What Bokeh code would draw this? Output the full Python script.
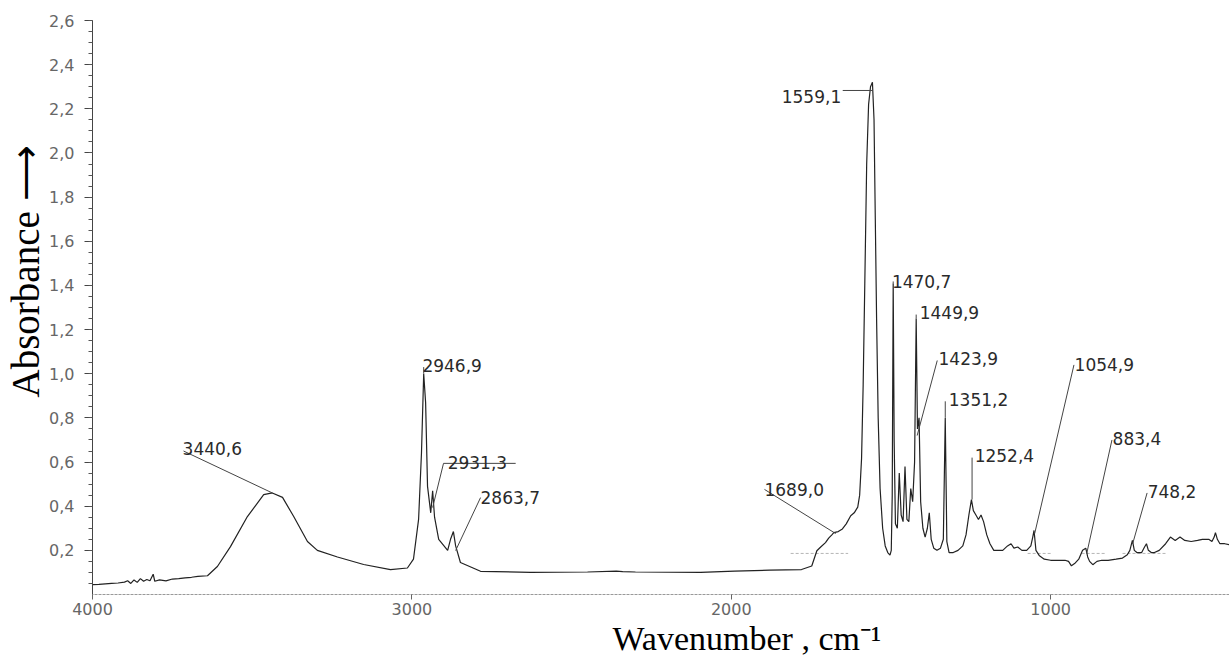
from bokeh.plotting import figure
from bokeh.models import Range1d, FixedTicker, CustomJSTickFormatter, Label, Title
from bokeh.embed import file_html
from bokeh.resources import INLINE

# Spectrum (wavenumber cm-1, absorbance)
wavenumber = [4000, 3980, 3960, 3940, 3920, 3900, 3890, 3880, 3870, 3860, 3850, 3840, 3830, 3820,
              3810, 3805, 3790, 3770, 3750, 3730, 3710, 3690, 3670, 3640, 3609, 3568, 3515, 3464,
              3437, 3405, 3370, 3327, 3296, 3233, 3151, 3067, 3014, 2995, 2979, 2970, 2963, 2957,
              2951, 2941, 2935, 2929, 2916, 2888, 2879, 2870, 2863, 2848, 2785, 2628, 2450, 2360,
              2340, 2300, 2096, 1990, 1880, 1780, 1748, 1732, 1720, 1705, 1695, 1685, 1679, 1665,
              1652, 1640, 1626, 1615, 1604, 1598, 1592, 1587, 1582, 1576, 1570, 1564, 1558, 1553,
              1549, 1545, 1540, 1534, 1526, 1518, 1510, 1503, 1499, 1496, 1493, 1490, 1486, 1480,
              1474, 1468, 1462, 1456, 1450, 1444, 1438, 1432, 1426, 1421, 1417, 1412, 1407, 1400,
              1393, 1386, 1380, 1374, 1366, 1356, 1345, 1336, 1330, 1325, 1318, 1305, 1290, 1275,
              1265, 1256, 1248, 1242, 1234, 1226, 1218, 1210, 1200, 1190, 1178, 1165, 1150, 1135,
              1124, 1115, 1103, 1090, 1075, 1062, 1056, 1052, 1046, 1035, 1020, 1000, 976, 955,
              944, 935, 925, 912, 900, 890, 884, 878, 868, 855, 840, 820, 795, 775, 760, 752,
              744, 738, 730, 715, 706, 700, 694, 685, 675, 660, 640, 625, 610, 595, 580, 560,
              540, 525, 505, 495, 488, 484, 478, 470, 455, 440]
absorbance = [0.045, 0.046, 0.048, 0.050, 0.052, 0.056, 0.062, 0.050, 0.066, 0.055, 0.072, 0.060, 0.068, 0.062,
              0.092, 0.060, 0.066, 0.062, 0.070, 0.072, 0.075, 0.078, 0.082, 0.085, 0.127, 0.217, 0.353, 0.452,
              0.460, 0.440, 0.353, 0.240, 0.200, 0.170, 0.136, 0.113, 0.120, 0.160, 0.340, 0.640, 1.000, 0.870,
              0.490, 0.370, 0.470, 0.350, 0.250, 0.200, 0.250, 0.285, 0.220, 0.145, 0.105, 0.100, 0.102, 0.106,
              0.104, 0.102, 0.100, 0.106, 0.110, 0.113, 0.129, 0.198, 0.215, 0.235, 0.255, 0.270, 0.280, 0.285,
              0.297, 0.320, 0.357, 0.370, 0.396, 0.450, 0.617, 0.950, 1.400, 1.950, 2.220, 2.300, 2.320, 2.150,
              1.700, 1.250, 0.800, 0.480, 0.300, 0.220, 0.190, 0.178, 0.200, 0.450, 1.410, 0.700, 0.320, 0.300,
              0.550, 0.360, 0.330, 0.580, 0.340, 0.330, 0.480, 0.420, 0.600, 1.250, 0.750, 0.800, 0.420, 0.300,
              0.260, 0.300, 0.370, 0.250, 0.210, 0.200, 0.210, 0.250, 0.800, 0.240, 0.190, 0.190, 0.200, 0.220,
              0.270, 0.360, 0.430, 0.380, 0.360, 0.340, 0.360, 0.330, 0.270, 0.230, 0.200, 0.200, 0.200, 0.220,
              0.230, 0.210, 0.215, 0.200, 0.200, 0.220, 0.260, 0.290, 0.200, 0.175, 0.160, 0.155, 0.155, 0.155,
              0.150, 0.130, 0.140, 0.160, 0.200, 0.210, 0.170, 0.150, 0.135, 0.150, 0.155, 0.155, 0.160, 0.165, 0.180, 0.200,
              0.245, 0.200, 0.190, 0.190, 0.215, 0.230, 0.200, 0.190, 0.190, 0.200, 0.230, 0.260, 0.245, 0.260, 0.245, 0.240,
              0.245, 0.250, 0.250, 0.240, 0.260, 0.280, 0.250, 0.230, 0.230, 0.225]

# Peak annotations: text, text anchor (left, baseline), leader line start and end
peak_labels = ["3440,6", "2946,9", "2931,3", "2863,7", "1689,0", "1559,1", "1470,7",
               "1449,9", "1423,9", "1351,2", "1252,4", "1054,9", "883,4", "748,2"]
label_wn = [3718, 2967, 2888, 2785, 1896, 1842, 1497, 1410, 1351, 1319, 1238, 925, 806, 696]
label_abs = [0.661, 1.037, 0.598, 0.439, 0.476, 2.256, 1.418, 1.277, 1.069, 0.883, 0.630, 1.042, 0.707, 0.467]
lead_wn0 = [3715, 2963, 2901, 2785, 1896, 1651, 1493, 1421, 1355, 1330, 1246, 927, 808, 698]
lead_abs0 = [0.650, 1.030, 0.594, 0.439, 0.476, 2.283, 1.418, 1.268, 1.060, 0.875, 0.620, 1.040, 0.700, 0.460]
lead_wn1 = [3437, 2963, 2935, 2863, 1673, 1557, 1493, 1421, 1418, 1330, 1246, 1050, 887, 743]
lead_abs1 = [0.460, 1.000, 0.394, 0.199, 0.276, 2.283, 1.410, 1.250, 0.720, 0.800, 0.430, 0.276, 0.186, 0.231]
# underline under the 2931,3 label
underline_wn = [2901, 2675]
underline_abs = [0.594, 0.594]
# faint baseline markers drawn by the spectrometer software
base_wn0 = [1814, 1072, 903, 775]
base_wn1 = [1634, 997, 828, 637]
base_abs = [0.186, 0.186, 0.186, 0.186]

y_ticks = [0.2, 0.4, 0.6, 0.8, 1.0, 1.2, 1.4, 1.6, 1.8, 2.0, 2.2, 2.4, 2.6]
y_minor = [round(i * 0.05, 2) for i in range(1, 53)]
x_ticks = [4000, 3000, 2000, 1000]

p = figure(width=1229, height=659, output_backend="svg", toolbar_location=None,
           x_range=Range1d(4000, 440), y_range=Range1d(0, 2.6),
           min_border_left=92, min_border_right=0, min_border_top=20, min_border_bottom=65)
p.outline_line_color = None
p.grid.visible = False
p.background_fill_color = "white"
p.border_fill_color = "white"

p.segment(x0=base_wn0, y0=base_abs, x1=base_wn1, y1=base_abs, line_color="#b5b5b5",
          line_width=1, line_dash="3 2")
p.line(wavenumber, absorbance, line_color="#222222", line_width=1.2)

p.segment(x0=lead_wn0, y0=lead_abs0, x1=lead_wn1, y1=lead_abs1, line_color="#444444", line_width=1)
p.line(underline_wn, underline_abs, line_color="#444444", line_width=1)
for t, lx, ly in zip(peak_labels, label_wn, label_abs):
    p.add_layout(Label(x=lx, y=ly, text=t, text_font="DejaVu Sans", text_font_size="17px",
                       text_color="#2a2a2a", text_baseline="alphabetic", text_align="left"))

p.xaxis.ticker = FixedTicker(ticks=x_ticks)
p.xaxis.axis_line_color = "#999999"
p.xaxis.axis_line_dash = "3 1"
p.xaxis.major_tick_line_color = "#666666"
p.xaxis.major_tick_in = 0
p.xaxis.major_tick_out = 5
p.xaxis.minor_tick_line_color = None
p.xaxis.major_label_standoff = 3
p.xaxis.major_label_text_font = "DejaVu Sans"
p.xaxis.major_label_text_font_size = "16px"
p.xaxis.major_label_text_color = "#666666"

p.yaxis.ticker = FixedTicker(ticks=y_ticks, minor_ticks=y_minor)
p.yaxis.formatter = CustomJSTickFormatter(code="return tick.toFixed(1).replace('.', ',');")
p.yaxis.axis_line_color = "#444444"
p.yaxis.major_tick_line_color = "#444444"
p.yaxis.minor_tick_line_color = "#555555"
p.yaxis.major_tick_in = 0
p.yaxis.major_tick_out = 8
p.yaxis.minor_tick_in = 0
p.yaxis.minor_tick_out = 4
p.yaxis.major_label_standoff = 10
p.yaxis.major_label_text_font = "DejaVu Sans"
p.yaxis.major_label_text_font_size = "16px"
p.yaxis.major_label_text_color = "#666666"

# axis titles
p.add_layout(Title(text="Absorbance \u27f6", align="left", offset=197, standoff=0,
                   text_font="Liberation Serif", text_font_size="39px", text_font_style="normal",
                   text_color="black"), "left")
p.add_layout(Title(text="Wavenumber , cm\u207b\u00b9", align="left", offset=520, standoff=0,
                   text_font="Liberation Serif", text_font_size="34px", text_font_style="normal",
                   text_color="black"), "below")

open("out.html", "w").write(file_html(p, INLINE))
